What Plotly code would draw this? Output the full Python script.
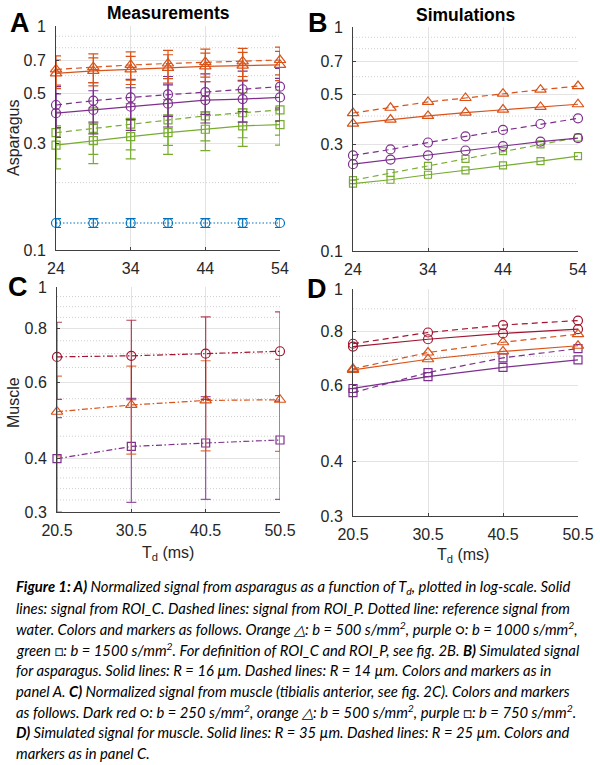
import math
import plotly.graph_objects as go

# ---------------- data ----------------
td_asp = [24, 29, 34, 39, 44, 49, 54]
td_mus = [20.5, 30.5, 40.5, 50.5]

# Panel A (measurements, asparagus)
A_orange_roic = [0.615, 0.63, 0.64, 0.65, 0.66, 0.665, 0.67]
A_orange_roip = [0.64, 0.655, 0.67, 0.68, 0.69, 0.695, 0.705]
A_purple_roic = [0.408, 0.422, 0.436, 0.45, 0.467, 0.472, 0.48]
A_purple_roip = [0.444, 0.464, 0.48, 0.495, 0.507, 0.522, 0.536]
A_green_roic = [0.294, 0.308, 0.321, 0.334, 0.346, 0.358, 0.363]
A_green_roip = [0.334, 0.349, 0.365, 0.381, 0.397, 0.41, 0.422]
A_water = [0.132, 0.132, 0.132, 0.132, 0.132, 0.132, 0.132]

A_orange_roic_err = [0.09, 0.09, 0.092, 0.094, 0.096, 0.098, 0.1]
A_orange_roip_err = [0.095, 0.096, 0.097, 0.098, 0.099, 0.1, 0.1]
A_purple_roic_err = [0.09, 0.092, 0.094, 0.096, 0.098, 0.1, 0.104]
A_purple_roip_err = [0.092, 0.095, 0.098, 0.1, 0.104, 0.107, 0.11]
A_green_roic_err = [0.064, 0.065, 0.066, 0.067, 0.068, 0.068, 0.069]
A_green_roip_err = [0.079, 0.082, 0.085, 0.088, 0.09, 0.093, 0.096]
A_water_err = [0.006, 0.006, 0.006, 0.006, 0.006, 0.006, 0.006]

# Panel B (simulations, asparagus)
B_orange_r16 = [0.37, 0.386, 0.401, 0.415, 0.428, 0.44, 0.452]
B_orange_r14 = [0.413, 0.436, 0.463, 0.482, 0.504, 0.525, 0.545]
B_purple_r16 = [0.244, 0.256, 0.267, 0.281, 0.294, 0.308, 0.319]
B_purple_r14 = [0.267, 0.284, 0.305, 0.325, 0.347, 0.369, 0.391]
B_green_r16 = [0.2, 0.208, 0.219, 0.229, 0.241, 0.252, 0.265]
B_green_r14 = [0.207, 0.223, 0.24, 0.258, 0.279, 0.299, 0.321]

# Panel C (measurements, muscle)
C_darkred = [0.688, 0.692, 0.70, 0.709]
C_orange = [0.513, 0.532, 0.545, 0.547]
C_purple = [0.399, 0.426, 0.434, 0.441]
C_darkred_err = [0.14, 0.145, 0.152, 0.166]
C_orange_err = [0.108, 0.123, 0.129, 0.132]
C_purple_err_plus = [0.098, 0.125, 0.122, 0.118]
C_purple_err_minus = [0.099, 0.11, 0.113, 0.12]

# Panel D (simulations, muscle)
D_darkred_r35 = [0.737, 0.766, 0.79, 0.808]
D_darkred_r25 = [0.748, 0.794, 0.826, 0.846]
D_orange_r35 = [0.651, 0.689, 0.718, 0.74]
D_orange_r25 = [0.655, 0.714, 0.754, 0.787]
D_purple_r35 = [0.59, 0.628, 0.66, 0.687]
D_purple_r25 = [0.577, 0.642, 0.694, 0.729]

asp_xticks = [24, 34, 44, 54]
mus_xticks = [20.5, 30.5, 40.5, 50.5]
asp_yticks = [0.1, 0.3, 0.5, 0.7, 1]
asp_yticklabels = ["0.1", "0.3", "0.5", "0.7", "1"]
asp_yminor = [0.2, 0.4, 0.6, 0.8, 0.9]
mus_yticks = [0.3, 0.4, 0.6, 0.8, 1]
mus_yticklabels = ["0.3", "0.4", "0.6", "0.8", "1"]
musC_yminor = [0.32, 0.34, 0.36, 0.38, 0.45, 0.5, 0.55, 0.65, 0.7, 0.75, 0.85, 0.9, 0.95]
musD_yminor = [0.5, 0.7, 0.9]

caption_lines = [
    "<b>Figure 1: A)</b> Normalized signal from asparagus as a function of T<sub>d</sub>, plotted in log-scale. Solid",
    "lines: signal from ROI_C. Dashed lines: signal from ROI_P. Dotted line: reference signal from",
    "water. Colors and markers as follows. Orange △: b = 500 s/mm<sup>2</sup>, purple ○: b = 1000 s/mm<sup>2</sup>,",
    "green □: b = 1500 s/mm<sup>2</sup>. For definition of ROI_C and ROI_P, see fig. 2B. <b>B)</b> Simulated signal",
    "for asparagus. Solid lines: R = 16 µm. Dashed lines: R = 14 µm. Colors and markers as in",
    "panel A. <b>C)</b> Normalized signal from muscle (tibialis anterior, see fig. 2C). Colors and markers",
    "as follows. Dark red ○: b = 250 s/mm<sup>2</sup>, orange △: b = 500 s/mm<sup>2</sup>, purple □: b = 750 s/mm<sup>2</sup>.",
    "<b>D)</b> Simulated signal for muscle. Solid lines: R = 35 µm. Dashed lines: R = 25 µm. Colors and",
    "markers as in panel C.",
]

# ---------------- styling ----------------
ORANGE = "#D95319"
PURPLE = "#7E2F8E"
GREEN = "#77AC30"
BLUE = "#0072BD"
DARKRED = "#A2142F"
FONT = "Liberation Sans, Arial, sans-serif"
TXT = "#262626"
DASH = "6px,4px"
DOT = "1.5px,2px"
DASHDOT = "6px,2.5px,1.5px,2.5px"
GRID = "#e3e3e3"
MINOR = "#cfcfcf"

W, H = 600, 765


def px_x(p):
    return p / W


def px_y(p):
    return 1 - p / H


fig = go.Figure()


def minor_grid(ax, xvals, levels):
    """dotted minor grid lines spanning the panel's x range, drawn through the axes"""
    xs, ys = [], []
    for v in levels:
        xs += [xvals[0], xvals[-1], None]
        ys += [v, v, None]
    xa = "x" if ax == 1 else "x%d" % ax
    ya = "y" if ax == 1 else "y%d" % ax
    fig.add_trace(go.Scatter(x=xs, y=ys, xaxis=xa, yaxis=ya, mode="lines",
                             line=dict(color=MINOR, width=1, dash="1px,2px"),
                             connectgaps=False, showlegend=False, hoverinfo="skip"))


minor_grid(1, td_asp, asp_yminor)
minor_grid(2, td_asp, asp_yminor)
minor_grid(3, td_mus, musC_yminor)
minor_grid(4, td_mus, musD_yminor)


def add(ax, x, y, color, symbol, dash, size=9, err=None, errminus=None, errcolor=None):
    kw = {}
    if err is not None:
        e = dict(type="data", array=err, visible=True, color=errcolor or color,
                 thickness=1.2, width=5)
        if errminus is not None:
            e["symmetric"] = False
            e["arrayminus"] = errminus
        kw["error_y"] = e
    xa = "x" if ax == 1 else "x%d" % ax
    ya = "y" if ax == 1 else "y%d" % ax
    fig.add_trace(go.Scatter(
        x=x, y=y, xaxis=xa, yaxis=ya, mode="lines+markers",
        line=dict(color=color, width=1.2, dash=dash),
        marker=dict(symbol=symbol, size=size, color=color,
                    line=dict(color=color, width=1.2)),
        cliponaxis=False, showlegend=False, hoverinfo="skip", **kw))


TRI, CIR, SQR = "triangle-up-open", "circle-open", "square-open"

# Panel A
add(1, td_asp, A_water, BLUE, CIR, DOT, 9, A_water_err)
add(1, td_asp, A_green_roic, GREEN, SQR, "solid", 8, A_green_roic_err)
add(1, td_asp, A_green_roip, GREEN, SQR, DASH, 8, A_green_roip_err)
add(1, td_asp, A_purple_roic, PURPLE, CIR, "solid", 9, A_purple_roic_err)
add(1, td_asp, A_purple_roip, PURPLE, CIR, DASH, 9, A_purple_roip_err)
add(1, td_asp, A_orange_roic, ORANGE, TRI, "solid", 10, A_orange_roic_err)
add(1, td_asp, A_orange_roip, ORANGE, TRI, DASH, 10, A_orange_roip_err)

# Panel B
add(2, td_asp, B_green_r16, GREEN, SQR, "solid", 7)
add(2, td_asp, B_green_r14, GREEN, SQR, DASH, 7)
add(2, td_asp, B_purple_r16, PURPLE, CIR, "solid", 9)
add(2, td_asp, B_purple_r14, PURPLE, CIR, DASH, 9)
add(2, td_asp, B_orange_r16, ORANGE, TRI, "solid", 10)
add(2, td_asp, B_orange_r14, ORANGE, TRI, DASH, 10)

# Panel C
add(3, td_mus, C_purple, PURPLE, SQR, DASHDOT, 8, C_purple_err_plus, C_purple_err_minus,
    "rgba(126,47,142,0.8)")
add(3, td_mus, C_orange, ORANGE, TRI, DASHDOT, 10, C_orange_err, None, "rgba(217,83,25,0.8)")
add(3, td_mus, C_darkred, DARKRED, CIR, DASHDOT, 9, C_darkred_err, None, "rgba(162,20,47,0.8)")

# Panel D
add(4, td_mus, D_purple_r35, PURPLE, SQR, "solid", 8)
add(4, td_mus, D_purple_r25, PURPLE, SQR, DASH, 8)
add(4, td_mus, D_orange_r35, ORANGE, TRI, "solid", 10)
add(4, td_mus, D_orange_r25, ORANGE, TRI, DASH, 10)
add(4, td_mus, D_darkred_r35, DARKRED, CIR, "solid", 9)
add(4, td_mus, D_darkred_r25, DARKRED, CIR, DASH, 9)


# ---------------- axes ----------------
def xax(domain, rng, ticks, anchor):
    return dict(domain=domain, range=rng, tickvals=ticks, ticktext=[str(t) for t in ticks],
                showgrid=True, gridcolor=GRID, gridwidth=1, zeroline=False,
                showline=True, linecolor="#404040", linewidth=1, mirror=False,
                ticks="inside", ticklen=3, tickcolor="#404040", ticklabelstandoff=4,
                automargin=False,
                tickfont=dict(family=FONT, size=16, color=TXT), anchor=anchor, fixedrange=True)


def yax(domain, rng, ticks, labels, anchor):
    return dict(domain=domain, type="log", range=rng, tickvals=ticks, ticktext=labels,
                showgrid=True, gridcolor=GRID, gridwidth=1, zeroline=False,
                showline=True, linecolor="#404040", linewidth=1, mirror=False,
                ticks="inside", ticklen=3, tickcolor="#404040", ticklabelstandoff=6,
                automargin=False,
                tickfont=dict(family=FONT, size=16, color=TXT), anchor=anchor, fixedrange=True)


lo_asp, lo_mus = -1, math.log10(0.3)

layout = dict(
    template="none",
    width=W, height=H, margin=dict(l=0, r=0, t=0, b=0, pad=0), autosize=False,
    paper_bgcolor="white", plot_bgcolor="white",
    font=dict(family=FONT, color=TXT),
    xaxis=xax([px_x(56), px_x(280)], [24, 54], asp_xticks, "y"),
    yaxis=yax([px_y(250), px_y(26)], [lo_asp, 0], asp_yticks, asp_yticklabels, "x"),
    xaxis2=xax([px_x(353), px_x(578)], [24, 54], asp_xticks, "y2"),
    yaxis2=yax([px_y(251), px_y(27)], [lo_asp, 0], asp_yticks, asp_yticklabels, "x2"),
    xaxis3=xax([px_x(57), px_x(280)], [20.5, 50.5], mus_xticks, "y3"),
    yaxis3=yax([px_y(512), px_y(287)], [lo_mus, 0], mus_yticks, mus_yticklabels, "x3"),
    xaxis4=xax([px_x(353), px_x(578)], [20.5, 50.5], mus_xticks, "y4"),
    yaxis4=yax([px_y(516), px_y(289)], [lo_mus, 0], mus_yticks, mus_yticklabels, "x4"),
)
fig.update_layout(**layout)

ann = []


def txt(x, y, text, size, bold=False, angle=0, xanchor="center", family=FONT, color="black"):
    ann.append(dict(x=px_x(x), y=px_y(y), xref="paper", yref="paper",
                    text=("<b>%s</b>" % text) if bold else text,
                    showarrow=False, xanchor=xanchor, yanchor="middle", textangle=angle,
                    font=dict(family=family, size=size, color=color)))


# panel letters
txt(20, 23, "A", 27, True)
txt(318, 23, "B", 27, True)
txt(18, 287, "C", 27, True)
txt(317, 289, "D", 27, True)
# titles
txt(168, 13, "Measurements", 17.5, True)
txt(465, 15, "Simulations", 17.5, True)
# y labels
txt(13, 138, "Asparagus", 16, False, -90, color=TXT)
txt(13, 403, "Muscle", 16, False, -90, color=TXT)
# x labels
txt(168, 553, "T<sub>d</sub> (ms)", 16, color=TXT)
txt(463, 555, "T<sub>d</sub> (ms)", 16, color=TXT)

# caption
CAP_FONT = "Lato, Liberation Sans, sans-serif"
for i, line in enumerate(caption_lines):
    txt(14, 587 + i * 20.75, "<i>" + line + "</i>", 14.8, False, 0, "left", CAP_FONT, "black")

fig.update_layout(annotations=ann)
fig.write_html(
    "out.html",
    config={"displayModeBar": False, "staticPlot": True},
    post_script="document.body.style.margin='0px';document.body.style.overflow='hidden';",
)
